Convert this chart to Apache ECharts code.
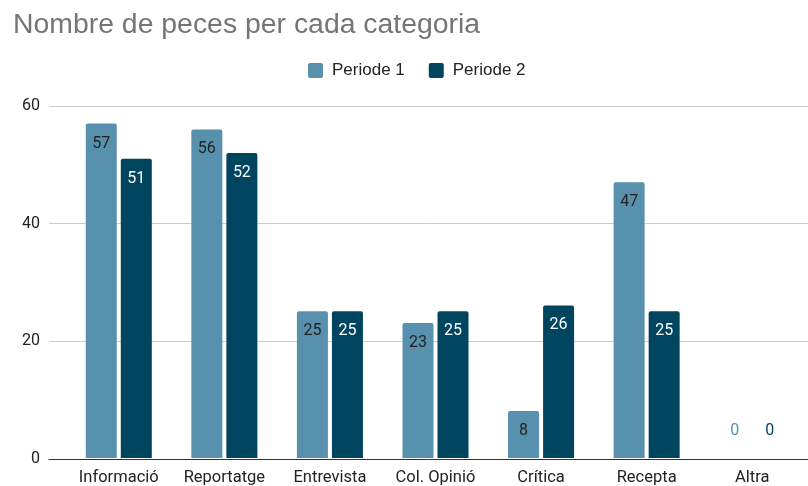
<!DOCTYPE html>
<html>
<head>
<meta charset="utf-8">
<script src="https://cdn.jsdelivr.net/npm/echarts@6/dist/echarts.min.js"></script>
<style>
  html, body { margin: 0; padding: 0; background: #fff; }
  #chart { width: 808px; height: 486px; }
</style>
</head>
<body>
<div id="chart"></div>
<script>
// Categories and values per period
const categories = ['Informació', 'Reportatge', 'Entrevista', 'Col. Opinió', 'Crítica', 'Recepta', 'Altra'];
const periode1 = [57, 56, 25, 23, 8, 47, 0];
const periode2 = [51, 52, 25, 25, 26, 25, 0];
const yTicks = { min: 0, max: 60, interval: 20 };

const color1 = '#5891ae';
const color2 = '#00455f';

// Zero-height bars get their label above the baseline in the bar colour
function toData(values, color) {
  return values.map(v => v === 0
    ? { value: v, label: { position: 'top', distance: 19, color: color } }
    : v);
}

const legendIcon = 'path://M2,0 H13 Q15,0 15,2 V13 Q15,15 13,15 H2 Q0,15 0,13 V2 Q0,0 2,0 Z';

const chart = echarts.init(document.getElementById('chart'));
chart.setOption({
  animation: false,
  title: {
    text: 'Nombre de peces per cada categoria',
    left: 8, top: 6,
    textStyle: { fontFamily: 'Liberation Sans', fontSize: 28.4, fontWeight: 'normal', color: '#757575' }
  },
  legend: {
    top: 57, left: 303,
    itemWidth: 15, itemHeight: 15, itemGap: 24,
    icon: legendIcon,
    textStyle: { fontFamily: 'Liberation Sans', fontSize: 17, color: '#222', padding: [0, 0, 0, 4] },
    data: ['Periode 1', 'Periode 2']
  },
  grid: [
    { left: 66, right: 3, top: 106, bottom: 27, containLabel: false },
    { left: 49, right: 0, top: 106, bottom: 27, containLabel: false }
  ],
  xAxis: [
    {
      type: 'category', data: categories, gridIndex: 0,
      axisLine: { show: false },
      axisTick: { show: false },
      axisLabel: { interval: 0, fontFamily: 'Roboto', fontSize: 16.5, color: '#222', margin: 11 }
    },
    {
      type: 'category', data: [''], gridIndex: 1,
      axisLine: { show: true, lineStyle: { color: '#333', width: 1 } },
      axisTick: { show: false }, axisLabel: { show: false }
    }
  ],
  yAxis: [
    {
      type: 'value', gridIndex: 0, min: yTicks.min, max: yTicks.max, interval: yTicks.interval,
      axisLine: { show: false }, axisTick: { show: false },
      splitLine: { show: false },
      axisLabel: { show: false }
    },
    {
      type: 'value', gridIndex: 1, min: yTicks.min, max: yTicks.max, interval: yTicks.interval,
      axisLine: { show: false }, axisTick: { show: false },
      splitLine: { lineStyle: { color: '#cccccc', width: 1 } },
      axisLabel: { fontFamily: 'Roboto', fontSize: 16, color: '#222', margin: 9 }
    }
  ],
  series: [
    {
      name: 'Periode 1', type: 'bar', xAxisIndex: 0, yAxisIndex: 0,
      data: toData(periode1, color1),
      barWidth: 31, barGap: '13%',
      itemStyle: { color: color1, borderRadius: [2, 2, 0, 0] },
      label: { show: true, position: 'insideTop', distance: 12, fontFamily: 'Roboto', fontSize: 16, color: '#222' }
    },
    {
      name: 'Periode 2', type: 'bar', xAxisIndex: 0, yAxisIndex: 0,
      data: toData(periode2, color2),
      barWidth: 31, barGap: '13%',
      itemStyle: { color: color2, borderRadius: [2, 2, 0, 0] },
      label: { show: true, position: 'insideTop', distance: 12, fontFamily: 'Roboto', fontSize: 16, color: '#fff' }
    }
  ]
});
</script>
</body>
</html>
